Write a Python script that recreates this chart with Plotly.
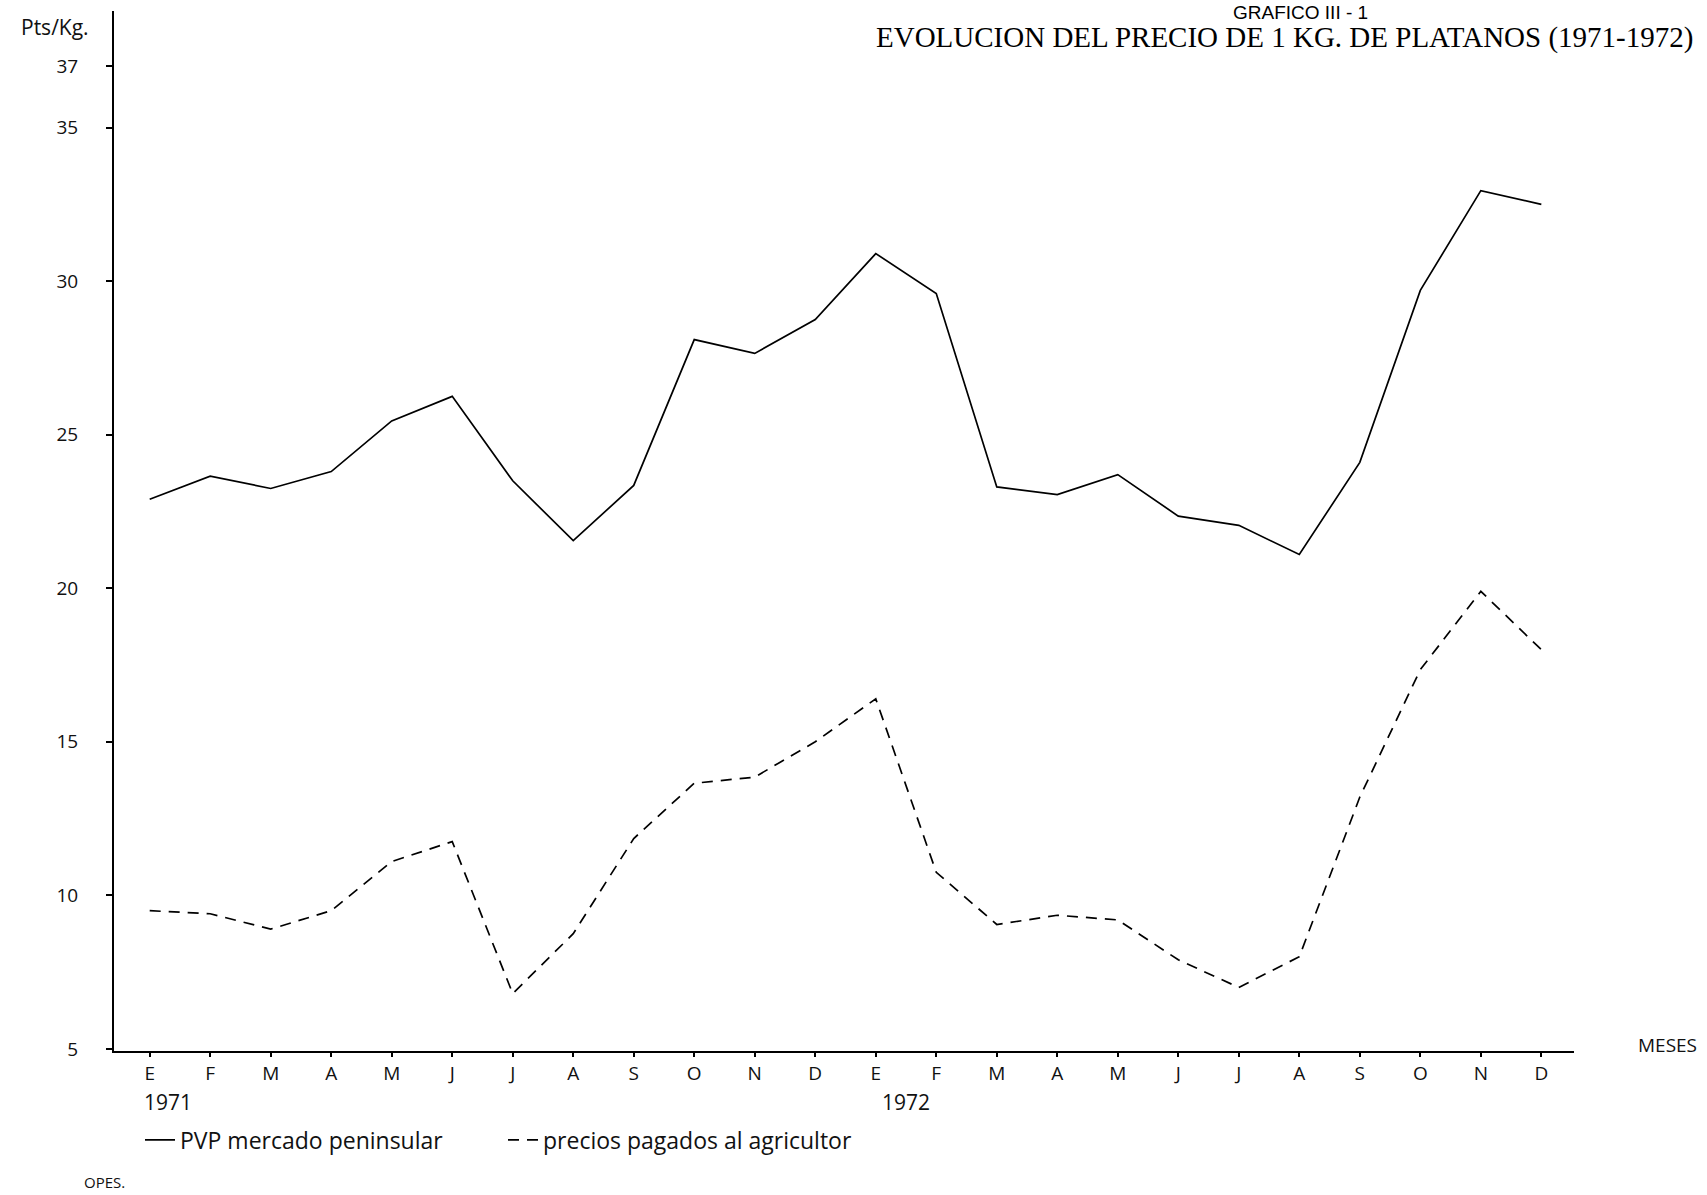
import plotly.graph_objects as go

# ---- data ----
months = ["E", "F", "M", "A", "M", "J", "J", "A", "S", "O", "N", "D",
          "E", "F", "M", "A", "M", "J", "J", "A", "S", "O", "N", "D"]
pvp_mercado = [22.9, 23.65, 23.25, 23.8, 25.45, 26.25, 23.5, 21.55, 23.35, 28.1, 27.65, 28.75,
               30.9, 29.6, 23.3, 23.05, 23.7, 22.35, 22.05, 21.1, 24.1, 29.7, 32.95, 32.5]
precio_agricultor = [9.5, 9.4, 8.9, 9.5, 11.1, 11.75, 6.8, 8.75, 11.85, 13.65, 13.85, 15.0,
                     16.4, 10.75, 9.05, 9.35, 9.2, 7.9, 7.0, 8.0, 13.2, 17.35, 19.9, 18.0]
y_ticks = [5, 10, 15, 20, 25, 30, 35, 37]
y_tick_text = ["5", "10", "15", "20", "25", "30", "35", "37"]

x_idx = list(range(len(months)))

W, H = 1707, 1195
ML, MR, MT, MB = 114, 133, 11, 144
PW, PH = W - ML - MR, H - MT - MB


def px_x(px):
    return (px - ML) / PW


def px_y(py):
    return (H - MB - py) / PH


hand = "Open Sans"

fig = go.Figure()
fig.add_trace(go.Scatter(x=x_idx, y=pvp_mercado, mode="lines",
                         name="PVP mercado peninsular",
                         line=dict(color="black", width=1.7)))
fig.add_trace(go.Scatter(x=x_idx, y=precio_agricultor, mode="lines",
                         name="precios pagados al agricultor",
                         line=dict(color="black", width=1.7, dash="11px,8px")))

fig.update_layout(
    width=W, height=H,
    margin=dict(l=ML, r=MR, t=MT, b=MB),
    paper_bgcolor="white", plot_bgcolor="white",
    font=dict(family=hand, color="#111"),
    showlegend=True,
    legend=dict(orientation="h", x=px_x(140), xanchor="left",
                y=px_y(1140), yanchor="middle",
                font=dict(size=23, family=hand, color="#111"),
                entrywidth=318, entrywidthmode="pixels",
                bgcolor="rgba(0,0,0,0)"),
    xaxis=dict(range=[-0.59, 23.54], tickvals=x_idx, ticktext=months,
               showline=True, linecolor="black", linewidth=2,
               ticks="outside", ticklen=4, tickwidth=1.5, tickcolor="black",
               showgrid=False, zeroline=False,
               tickfont=dict(size=19, family=hand, color="#111")),
    yaxis=dict(range=[4.93, 38.8], tickvals=y_ticks, ticktext=y_tick_text,
               showline=True, linecolor="black", linewidth=2,
               ticks="outside", ticklen=6, tickwidth=1.5, tickcolor="black",
               showgrid=False, zeroline=False, ticklabelstandoff=24,
               tickfont=dict(size=19, family=hand, color="#111")),
)

annots = [
    dict(text="Pts/Kg.", x=px_x(55), y=px_y(27), xanchor="center", yanchor="middle",
         font=dict(size=21, family=hand)),
    dict(text="MESES", x=px_x(1668), y=px_y(1045), xanchor="center", yanchor="middle",
         font=dict(size=19, family=hand)),
    dict(text="1971", x=px_x(142), y=px_y(1102), xanchor="left", yanchor="middle",
         font=dict(size=21, family=hand)),
    dict(text="1972", x=px_x(880), y=px_y(1102), xanchor="left", yanchor="middle",
         font=dict(size=21, family=hand)),
    dict(text="OPES.", x=px_x(82), y=px_y(1182), xanchor="left", yanchor="middle",
         font=dict(size=15, family=hand)),
    dict(text="EVOLUCION DEL PRECIO DE 1 KG. DE PLATANOS (1971-1972)",
         x=px_x(874), y=px_y(37), xanchor="left", yanchor="middle",
         font=dict(size=29, family="Liberation Serif", color="black")),
    dict(text="GRAFICO III - 1", x=px_x(1300), y=px_y(0), xanchor="center", yanchor="top",
         font=dict(size=19, family="Liberation Sans", color="black")),
]
for a in annots:
    a.update(xref="paper", yref="paper", showarrow=False)
    fig.add_annotation(**a)

fig.write_html("out.html", config={"displayModeBar": False},
               post_script="document.body.style.margin='0';")
